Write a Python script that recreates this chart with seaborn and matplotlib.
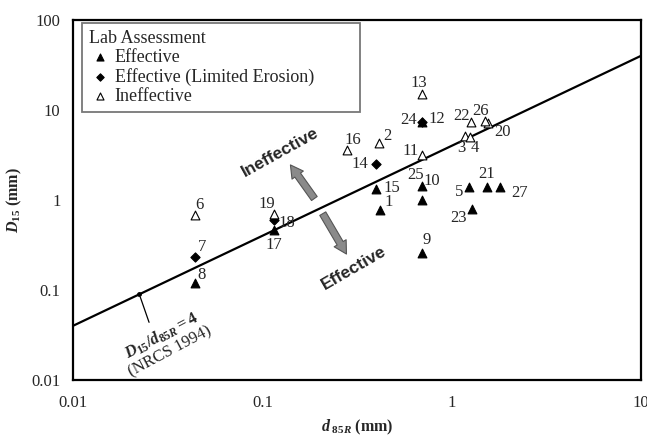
import numpy as np
import pandas as pd
import matplotlib
matplotlib.use("Agg")
import matplotlib.pyplot as plt
import seaborn as sns

# Data
ids = list(range(1, 28))
d85r = [0.42, 0.415, 1.17, 1.25, 1.24, 0.044, 0.044, 0.044, 0.70, 0.70,
        0.70, 0.70, 0.70, 0.40, 0.40, 0.279, 0.115, 0.115, 0.115, 1.56,
        1.54, 1.26, 1.28, 0.70, 0.70, 1.50, 1.79]
d15 = [0.77, 4.3, 5.1, 5.0, 1.41, 0.68, 0.23, 0.119, 0.26, 1.0,
       3.2, 7.3, 15.1, 2.5, 1.31, 3.6, 0.46, 0.60, 0.70, 7.1,
       1.41, 7.3, 0.79, 7.3, 1.43, 7.5, 1.41]
assessment = ["E", "I", "I", "I", "E", "I", "L", "E", "E", "E",
              "I", "E", "I", "L", "E", "I", "E", "L", "I", "I",
              "E", "I", "E", "L", "E", "I", "E"]
categories = ["Effective", "Effective (Limited Erosion)", "Ineffective"]
cat_codes = ["E", "L", "I"]
criterion_ratio = 4
x_ticks = [0.01, 0.1, 1, 10]
y_ticks = [0.01, 0.1, 1, 10, 100]

df = pd.DataFrame({"id": ids, "d85r": d85r, "d15": d15, "cat": assessment})

# label offsets (pixels) for the point numbers
offsets = {1: (8, 8), 2: (8, 7), 3: (-3, -12), 4: (5, -11), 5: (-10, -5),
           6: (5, 10), 7: (7, 10), 8: (7, 8), 9: (4, 13), 10: (9, 19),
           11: (-12, 4), 12: (14, 3), 13: (-4, 11), 14: (-16, 0), 15: (16, 1),
           16: (6, 10), 17: (0, -15), 18: (13, -3), 19: (-7, 10), 20: (14, -9),
           21: (-1, 13), 22: (-9, 6), 23: (-13, -9), 24: (-14, 2), 25: (-7, 11),
           26: (-4, 10), 27: (20, -6)}

sns.set_style("white")
plt.rcParams["font.family"] = ["Liberation Serif", "DejaVu Serif"]
plt.rcParams["mathtext.fontset"] = "custom"
plt.rcParams["mathtext.it"] = "Liberation Serif:italic:bold"
plt.rcParams["mathtext.rm"] = "Liberation Serif:bold"
plt.rcParams["mathtext.bf"] = "Liberation Serif:bold"

fig = plt.figure(figsize=(6.47, 4.40), dpi=100)
ax = fig.add_axes([73 / 647, 60 / 440, 568 / 647, 360 / 440])

styles = {
    "E": dict(marker="^", color="black", edgecolor="black", s=40),
    "L": dict(marker="D", color="black", edgecolor="black", s=22),
    "I": dict(marker="^", color="white", edgecolor="black", s=40),
}
for code, name in zip(cat_codes, categories):
    sub = df[df["cat"] == code]
    sns.scatterplot(data=sub, x="d85r", y="d15", ax=ax, label=name,
                    linewidth=0.8, zorder=4, **styles[code])

# criterion line D15 = 4 * d85R
xl = np.array([0.01, 10])
ax.plot(xl, criterion_ratio * xl, color="black", lw=1.6, zorder=3)

ax.set_xscale("log")
ax.set_yscale("log")
ax.set_xlim(0.01, 10)
ax.set_ylim(0.01, 100)
ax.set_xticks(x_ticks)
ax.set_xticklabels([f"{t:g}" for t in x_ticks])
ax.set_yticks(y_ticks)
ax.set_yticklabels([f"{t:g}" for t in y_ticks])
ax.tick_params(axis="both", which="major", direction="in", length=5,
               width=1, labelsize=12, color="#333333")
ax.tick_params(axis="both", which="minor", direction="in", length=3,
               width=0.8, color="#555555")
ax.tick_params(axis="x", which="major", pad=11)
ax.tick_params(axis="y", which="major", pad=9)
ax.tick_params(top=False, right=False, which="both")
for sp in ax.spines.values():
    sp.set_color("black")
    sp.set_linewidth(1.6)

ax.set_xlabel(r"$d_{\ 85R}$ (mm)", fontsize=11.5, fontweight="bold", labelpad=5)
ax.set_ylabel(r"$D_{15}$ (mm)", fontsize=11.5, fontweight="bold", labelpad=5)

# point numbers
for _, r in df.iterrows():
    ax.annotate(str(r["id"]), (r["d85r"], r["d15"]), xytext=offsets[r["id"]],
                textcoords="offset pixels", ha="center", va="center",
                fontsize=12, zorder=5)

# Ineffective / Effective arrows and text
arrow_kw = dict(arrowstyle="simple,head_width=1.0,head_length=0.9,tail_width=0.5",
                fc="#8a8a8a", ec="#555555", lw=0.8)
ax.annotate("", xy=(0.138, 2.6), xytext=(0.192, 0.98), arrowprops=arrow_kw)
ax.annotate("", xy=(0.283, 0.236), xytext=(0.205, 0.75), arrowprops=arrow_kw)
ax.text(0.124, 3.35, "Ineffective", rotation=29, ha="center", va="center",
        fontsize=12.5, fontweight="bold", family="Liberation Sans")
ax.text(0.303, 0.174, "Effective", rotation=30, ha="center", va="center",
        fontsize=12.5, fontweight="bold", family="Liberation Sans")

# criterion label
ax.plot([0.0224], [0.0896], "o", color="black", ms=2.5, zorder=4)
ax.annotate("", xy=(0.0224, 0.0896), xytext=(0.0255, 0.0409),
            arrowprops=dict(arrowstyle="-", color="black", lw=0.9))
ax.text(0.0307, 0.0256, r"$D_{15}/d_{85R} = 4$" + "\n(NRCS 1994)",
        rotation=28, ha="center", va="center", fontsize=12,
        multialignment="center", linespacing=1.0)

leg = ax.legend(title="Lab Assessment", loc="upper left",
                bbox_to_anchor=(0.016, 0.7317, 0.489, 0.26), mode="expand",
                borderaxespad=0, frameon=True, fancybox=False,
                fontsize=13, title_fontsize=13, handletextpad=0.2,
                handlelength=1.2, borderpad=0.4, labelspacing=0.1,
                markerscale=0.8)
leg._legend_box.align = "left"
leg.get_frame().set_edgecolor("#555555")
leg.get_frame().set_linewidth(1.3)

fig.savefig("out.png", dpi=100)
